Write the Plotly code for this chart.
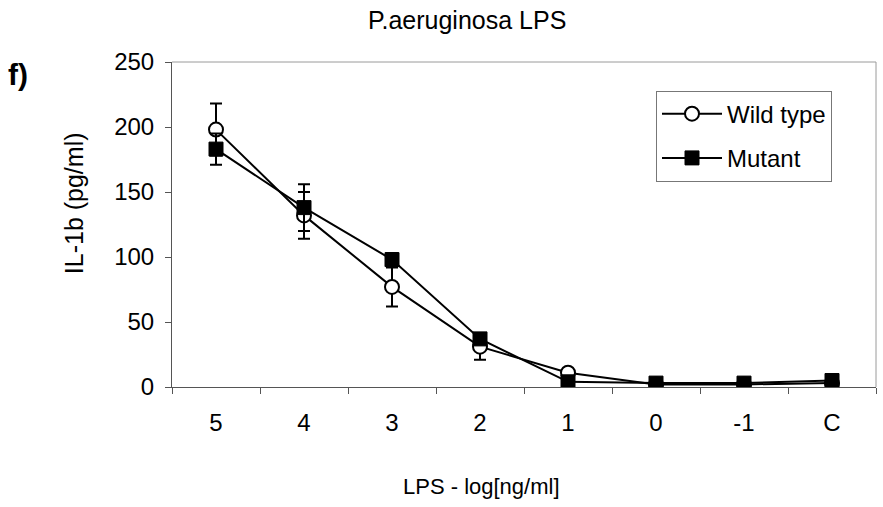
import plotly.graph_objects as go

# LPS dose (log ng/ml) and control
categories = ["5", "4", "3", "2", "1", "0", "-1", "C"]

wild_type = [198, 132, 77, 31, 11, 2, 2, 3]
wild_type_err = [20, 18, 15, 10, 2, 1, 1, 1]

mutant = [183, 138, 98, 37, 4, 3, 3, 5]
mutant_err = [12, 18, 5, 3, 1, 1, 1, 1]

y_ticks = [0, 50, 100, 150, 200, 250]

FONT = "Liberation Sans, Arial, sans-serif"

fig = go.Figure()

fig.add_trace(go.Scatter(
    x=categories, y=wild_type, name="Wild type", mode="lines+markers",
    legendgroup="wt",
    line=dict(color="black", width=2),
    marker=dict(symbol="circle", size=14, color="white",
                line=dict(color="black", width=2)),
    error_y=dict(type="data", array=wild_type_err, visible=True,
                 color="black", thickness=2, width=6),
))

fig.add_trace(go.Scatter(
    x=categories, y=mutant, name="Mutant", mode="lines+markers",
    legendgroup="mt",
    line=dict(color="black", width=2),
    marker=dict(symbol="square", size=14, color="black",
                line=dict(color="black", width=1)),
    error_y=dict(type="data", array=mutant_err, visible=True,
                 color="black", thickness=2, width=6),
))

# light frame on the top and right of the plot area
fig.add_shape(type="line", xref="paper", yref="paper", x0=0, x1=1, y0=1, y1=1,
              line=dict(color="#9a9a9a", width=1))
fig.add_shape(type="line", xref="paper", yref="paper", x0=1, x1=1, y0=0, y1=1,
              line=dict(color="#9a9a9a", width=1))

fig.update_layout(
    width=883, height=507,
    margin=dict(l=172, r=7, t=62, b=120),
    paper_bgcolor="white", plot_bgcolor="white",
    font=dict(family=FONT, color="black"),
    showlegend=True,
    legend=dict(
        x=0.6875, y=0.912, xanchor="left", yanchor="top",
        bgcolor="white", bordercolor="#777", borderwidth=1,
        font=dict(size=24, family=FONT, color="black"),
        traceorder="grouped", tracegroupgap=10, itemwidth=60,
    ),
    annotations=[
        dict(text="P.aeruginosa LPS", xref="paper", yref="paper",
             x=0.419, y=1.129, xanchor="center", yanchor="middle",
             showarrow=False, font=dict(size=25, family=FONT)),
        dict(text="<b>f)</b>", xref="paper", yref="paper",
             x=-0.236, y=0.963, xanchor="left", yanchor="middle",
             showarrow=False, font=dict(size=30, family=FONT)),
        dict(text="IL-1b (pg/ml)", xref="paper", yref="paper",
             x=-0.139, y=0.566, xanchor="center", yanchor="middle",
             textangle=-90, showarrow=False, font=dict(size=25, family=FONT)),
        dict(text="LPS - log[ng/ml]", xref="paper", yref="paper",
             x=0.439, y=-0.306, xanchor="center", yanchor="middle",
             showarrow=False, font=dict(size=22, family=FONT)),
    ],
)

fig.update_xaxes(
    type="category", range=[-0.5, 7.5],
    showline=True, linecolor="#555", linewidth=1,
    ticks="outside", tickson="boundaries", ticklen=6, tickcolor="#555",
    showgrid=False, zeroline=False,
    tickfont=dict(size=24, family=FONT, color="black"),
    ticklabelstandoff=14,
)
fig.update_yaxes(
    range=[0, 250], tickvals=y_ticks,
    showline=True, linecolor="#555", linewidth=1,
    ticks="outside", ticklen=6, tickcolor="#555",
    showgrid=False, zeroline=False,
    tickfont=dict(size=24, family=FONT, color="black"),
    ticklabelstandoff=6,
)

fig.write_html("out.html")
